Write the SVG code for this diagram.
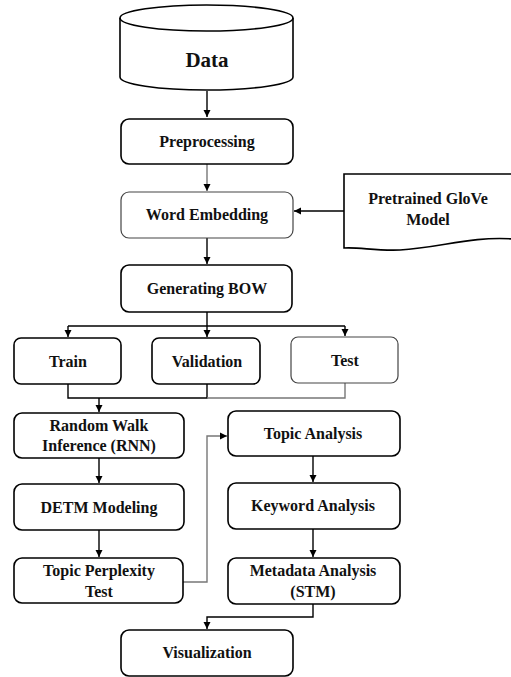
<svg xmlns="http://www.w3.org/2000/svg" width="511" height="677" viewBox="0 0 511 677">
<defs>
<marker id="ah" markerWidth="8" markerHeight="8" refX="7" refY="4" orient="auto" markerUnits="userSpaceOnUse">
<path d="M0,0.5 L7,4 L0,7.5 Z" fill="#000"/>
</marker>
</defs>
<style>
.box{fill:#fff;stroke:#000;stroke-width:1.6}
.lt{stroke:#444;stroke-width:1.2}
.t{font-family:"Liberation Serif","Times New Roman",serif;font-weight:bold;font-size:16px;fill:#111;text-anchor:middle}
.c{fill:none;stroke:#000;stroke-width:1.4}
.g{fill:none;stroke:#777;stroke-width:1.4}
</style>
<rect width="511" height="677" fill="#fff"/>
<g id="connectors">
<path class="c" d="M207,91 V117" marker-end="url(#ah)"/>
<path class="g" d="M207,164 V191" marker-end="url(#ah)"/>
<path class="c" d="M344,211 H294" marker-end="url(#ah)"/>
<path class="c" d="M207,238 V264" marker-end="url(#ah)"/>
<path class="c" d="M207,312 V337" marker-end="url(#ah)"/>
<path class="c" d="M68,326 H345"/>
<path class="c" d="M68,326 V337" marker-end="url(#ah)"/>
<path class="c" d="M345,326 V336" marker-end="url(#ah)"/>
<path class="c" d="M68,384 V398 H207 V384"/>
<path class="g" d="M207,398 H345 V383"/>
<path class="c" d="M99,398 V412" marker-end="url(#ah)"/>
<path class="c" d="M99,458 V483" marker-end="url(#ah)"/>
<path class="c" d="M99,530 V557" marker-end="url(#ah)"/>
<path class="g" d="M183,582 H207 V436 H227" marker-end="url(#ah)"/>
<path class="c" d="M313,456 V482" marker-end="url(#ah)"/>
<path class="c" d="M313,529 V557" marker-end="url(#ah)"/>
<path class="c" d="M313,604 V617 H207 V629" marker-end="url(#ah)"/>
</g>
<g id="data">
<path class="box" d="M120,18 V77 A86.5,13 0 0 0 293,77 V18 A86.5,13 0 0 0 120,18 Z"/>
<path fill="none" stroke="#000" stroke-width="1.6" d="M120,18 A86.5,13 0 0 0 293,18"/>
<text class="t" x="207" y="67" style="font-size:21px">Data</text>
</g>
<g id="preprocessing">
<rect class="box" x="121" y="119" width="172" height="45" rx="8"/>
<text class="t" x="207" y="147">Preprocessing</text>
</g>
<g id="word-embedding">
<rect class="box lt" x="121" y="192" width="172" height="46" rx="8"/>
<text class="t" x="207" y="220">Word Embedding</text>
</g>
<g id="glove">
<path class="box" d="M344,174 H513 V239 C470,236 440,248 400,250 C375,251 360,247 344,248 Z"/>
<text class="t" x="428" y="204">Pretrained GloVe</text>
<text class="t" x="428" y="225">Model</text>
</g>
<g id="bow">
<rect class="box" x="121" y="265" width="171" height="47" rx="8"/>
<text class="t" x="207" y="294">Generating BOW</text>
</g>
<g id="train">
<rect class="box" x="14" y="338" width="107" height="46" rx="7"/>
<text class="t" x="68" y="367">Train</text>
</g>
<g id="validation">
<rect class="box" x="152" y="338" width="108" height="46" rx="7"/>
<text class="t" x="207" y="367">Validation</text>
</g>
<g id="test">
<rect class="box lt" x="291" y="337" width="107" height="46" rx="7"/>
<text class="t" x="345" y="366">Test</text>
</g>
<g id="rnn">
<rect class="box" x="14" y="413" width="170" height="45" rx="8"/>
<text class="t" x="99" y="431">Random Walk</text>
<text class="t" x="99" y="451">Inference (RNN)</text>
</g>
<g id="detm">
<rect class="box" x="14" y="484" width="170" height="46" rx="8"/>
<text class="t" x="99" y="513">DETM Modeling</text>
</g>
<g id="perplexity">
<rect class="box" x="14" y="558" width="169" height="45" rx="8"/>
<text class="t" x="99" y="576">Topic Perplexity</text>
<text class="t" x="99" y="597">Test</text>
</g>
<g id="topic-analysis">
<rect class="box" x="228" y="411" width="172" height="45" rx="8"/>
<text class="t" x="313" y="439">Topic Analysis</text>
</g>
<g id="keyword-analysis">
<rect class="box" x="228" y="483" width="172" height="46" rx="8"/>
<text class="t" x="313" y="511">Keyword Analysis</text>
</g>
<g id="metadata">
<rect class="box" x="228" y="558" width="172" height="46" rx="8"/>
<text class="t" x="313" y="576">Metadata Analysis</text>
<text class="t" x="313" y="597">(STM)</text>
</g>
<g id="visualization">
<rect class="box" x="121" y="630" width="172" height="46" rx="8"/>
<text class="t" x="207" y="658">Visualization</text>
</g>
</svg>
